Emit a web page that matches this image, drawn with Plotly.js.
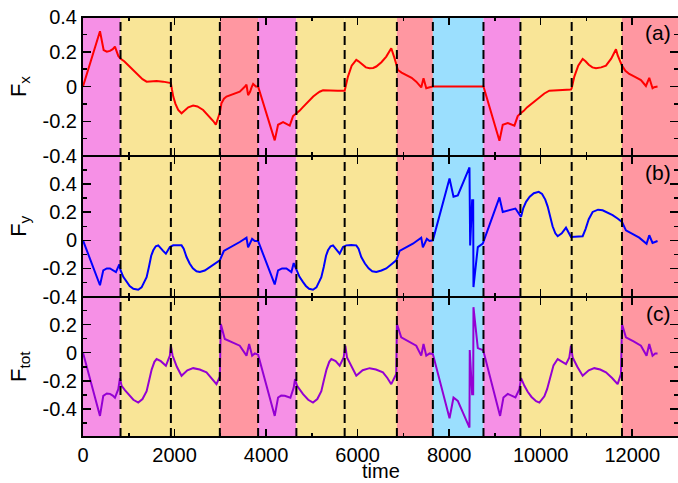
<!DOCTYPE html>
<html>
<head>
<meta charset="utf-8">
<script src="https://cdn.plot.ly/plotly-3.0.1.min.js"></script>
<style>html,body{margin:0;padding:0;background:#fff;}#chart{width:678px;height:483px;}</style>
</head>
<body>
<div id="chart"></div>
<script>
// ---- data ----
var boundaries = [0, 820, 1920, 2990, 3826, 4662, 5717, 6858, 7644, 8750, 9557, 10677, 11776, 13000];
var segmentKinds = ["m", "y", "y", "r", "m", "y", "y", "r", "c", "m", "y", "y", "r"];
var dashedAt = [820, 1920, 2990, 3826, 4662, 5717, 6858, 7644, 8750, 9557, 10677, 11776];
var xTicks = [0, 2000, 4000, 6000, 8000, 10000, 12000];
var yTickVals = [-0.4, -0.2, 0, 0.2, 0.4];
var yTickText = ["-0.4", "-0.2", "0", "0.2", "0.4"];
var yTickTextC = ["-0.4", "-0.2", "0", "0.2", ""];

var tFx = [0,371,451,520,589,650,698,740,771,822,900,1000,1098,1200,1300,1390,1500,1608,1750,1898,1920,1945,1972,2020,2080,2153,2220,2300,2407,2500,2625,2750,2850,2902,2952,2990,3025,3080,3135,3280,3425,3540,3572,3607,3650,3690,3717,3775,3826,4189,4262,4371,4517,4589,4662,4730,4800,4880,4953,5030,5100,5170,5244,5400,5564,5717,5750,5789,5870,5971,6020,6080,6180,6262,6340,6408,6520,6626,6735,6808,6858,6880,6960,7063,7180,7281,7390,7440,7500,7575,7644,8750,9099,9171,9280,9426,9498,9557,9630,9700,9800,9900,9971,10080,10189,10407,10662,10677,10700,10735,10820,10917,10980,11050,11130,11208,11320,11426,11540,11645,11681,11776,11850,11935,12060,12190,12299,12372,12444,12480,12553];
var fx = [0,0.318,0.21,0.2,0.205,0.215,0.23,0.2,0.176,0.16,0.145,0.12,0.095,0.068,0.042,0.028,0.03,0.032,0.028,0.022,0.02,-0.02,-0.058,-0.1,-0.135,-0.154,-0.14,-0.12,-0.11,-0.115,-0.135,-0.17,-0.2,-0.22,-0.175,-0.15,-0.097,-0.07,-0.058,-0.045,-0.03,0.0,0.01,-0.05,-0.03,0.0,0.015,0.0,0.0,-0.31,-0.22,-0.205,-0.225,-0.17,-0.155,-0.14,-0.12,-0.097,-0.077,-0.058,-0.043,-0.03,-0.022,-0.025,-0.025,-0.024,0.02,0.057,0.12,0.153,0.145,0.13,0.11,0.105,0.107,0.115,0.14,0.172,0.22,0.162,0.12,0.095,0.08,0.066,0.05,0.028,-0.005,0.047,-0.01,-0.004,0,0,-0.312,-0.22,-0.21,-0.225,-0.17,-0.155,-0.14,-0.12,-0.1,-0.08,-0.065,-0.04,-0.024,-0.02,-0.017,-0.01,0.02,0.057,0.12,0.158,0.145,0.125,0.11,0.105,0.11,0.12,0.16,0.214,0.18,0.12,0.09,0.072,0.055,0.037,0.003,0.05,-0.01,-0.004,0];

var tFy = [0,371,443,520,589,650,720,793,822,880,953,1020,1100,1207,1280,1340,1390,1440,1490,1535,1590,1644,1690,1750,1811,1850,1898,1971,2060,2153,2200,2262,2330,2400,2480,2553,2660,2771,2880,2989,3077,3250,3425,3572,3607,3695,3753,3826,4189,4262,4350,4444,4553,4604,4662,4730,4808,4870,4940,5025,5100,5160,5207,5260,5310,5353,5410,5462,5530,5608,5680,5753,5860,5971,6020,6080,6160,6240,6320,6408,6520,6626,6740,6844,6917,7060,7208,7390,7426,7513,7571,7644,8008,8095,8189,8444,8459,8502,8525,8531,8626,8735,8750,9099,9171,9280,9448,9571,9620,9680,9760,9850,9957,10030,10100,10153,10200,10260,10320,10371,10460,10553,10662,10800,10917,10980,11050,11135,11253,11353,11470,11571,11680,11776,11862,12000,12153,12313,12372,12444,12553];
var fy = [0,-0.32,-0.214,-0.2,-0.2,-0.21,-0.226,-0.171,-0.214,-0.26,-0.298,-0.325,-0.345,-0.352,-0.335,-0.3,-0.262,-0.19,-0.11,-0.071,-0.042,-0.036,-0.05,-0.075,-0.095,-0.07,-0.048,-0.036,-0.034,-0.036,-0.06,-0.119,-0.165,-0.2,-0.22,-0.226,-0.215,-0.19,-0.165,-0.143,-0.076,-0.045,-0.012,0.019,-0.05,0.01,-0.005,-0.005,-0.314,-0.214,-0.2,-0.2,-0.226,-0.162,-0.214,-0.26,-0.298,-0.325,-0.345,-0.352,-0.335,-0.3,-0.262,-0.19,-0.11,-0.071,-0.042,-0.036,-0.06,-0.095,-0.048,-0.036,-0.034,-0.036,-0.06,-0.119,-0.165,-0.2,-0.22,-0.226,-0.215,-0.2,-0.17,-0.143,-0.076,-0.05,-0.024,0.019,-0.05,0.01,-0.005,0,0.44,0.31,0.32,0.519,-0.036,0.286,0.286,-0.333,-0.048,-0.024,-0.01,0.305,0.202,0.21,0.226,0.167,0.23,0.274,0.31,0.335,0.345,0.33,0.29,0.24,0.17,0.1,0.05,0.029,0.05,0.09,0.024,0.027,0.029,0.08,0.15,0.202,0.218,0.214,0.195,0.179,0.155,0.131,0.071,0.045,0.019,-0.024,0.036,-0.019,-0.005];

var tFtot = [0,371,443,520,589,650,698,771,807,844,920,989,1100,1207,1300,1390,1440,1500,1560,1608,1700,1811,1898,1920,1957,2050,2153,2280,2407,2550,2698,2800,2916,2989,3011,3098,3260,3425,3572,3630,3695,3753,3826,4189,4262,4330,4407,4531,4604,4633,4677,4740,4808,4920,5025,5120,5207,5260,5320,5380,5426,5520,5608,5695,5731,5768,5870,5971,6110,6262,6400,6553,6650,6735,6844,6858,6953,7120,7281,7390,7440,7500,7575,7644,8008,8095,8189,8444,8450,8502,8525,8531,8626,8735,8750,9113,9186,9280,9448,9535,9571,9644,9720,9800,9900,9971,10080,10140,10189,10240,10280,10371,10460,10553,10626,10662,10698,10800,10917,11050,11171,11300,11426,11560,11681,11753,11776,11862,12030,12190,12313,12372,12444,12502,12553];
var ftot = [0,-0.45,-0.307,-0.29,-0.293,-0.305,-0.321,-0.26,-0.181,-0.236,-0.268,-0.295,-0.335,-0.355,-0.33,-0.274,-0.2,-0.12,-0.065,-0.045,-0.06,-0.093,-0.02,0.05,-0.02,-0.1,-0.164,-0.125,-0.11,-0.12,-0.14,-0.18,-0.224,-0.171,0.205,0.098,0.075,0.05,-0.021,0.062,-0.021,-0.005,-0.014,-0.45,-0.319,-0.305,-0.307,-0.321,-0.248,-0.188,-0.236,-0.268,-0.295,-0.335,-0.355,-0.33,-0.274,-0.2,-0.12,-0.065,-0.045,-0.06,-0.093,-0.033,0.05,-0.033,-0.1,-0.164,-0.125,-0.11,-0.12,-0.14,-0.18,-0.224,-0.152,0.205,0.109,0.08,0.05,-0.021,0.062,-0.021,-0.005,-0.01,-0.467,-0.319,-0.343,-0.533,0.019,-0.295,-0.295,0.324,0.033,0.019,0.01,-0.45,-0.319,-0.293,-0.319,-0.26,-0.181,-0.236,-0.28,-0.315,-0.345,-0.355,-0.31,-0.26,-0.2,-0.13,-0.09,-0.045,-0.06,-0.081,-0.033,0.05,-0.033,-0.1,-0.164,-0.125,-0.11,-0.12,-0.14,-0.18,-0.224,-0.152,0.205,0.109,0.08,0.05,-0.021,0.062,-0.021,-0.005,-0.005];

// ---- style ----
var FONT = "Liberation Sans, Arial, Helvetica, sans-serif";
var kindColor = {m: "#f690e6", y: "#f9e597", r: "#ff97a1", c: "#9bdffe"};

var traces = [
  {x: tFx, y: fx, xaxis: "x", yaxis: "y", mode: "lines", line: {color: "#ff0000", width: 2}, hoverinfo: "skip"},
  {x: tFy, y: fy, xaxis: "x2", yaxis: "y2", mode: "lines", line: {color: "#0000ff", width: 2}, hoverinfo: "skip"},
  {x: tFtot, y: ftot, xaxis: "x3", yaxis: "y3", mode: "lines", line: {color: "#9400d3", width: 2}, hoverinfo: "skip"}
];

var shapes = [];
for (var i = 0; i < segmentKinds.length; i++) {
  shapes.push({type: "rect", xref: "x", yref: "paper", x0: boundaries[i], x1: boundaries[i + 1], y0: 0, y1: 1,
    fillcolor: kindColor[segmentKinds[i]], line: {width: 0}, layer: "below"});
}
dashedAt.forEach(function (t) {
  shapes.push({type: "line", xref: "x", yref: "paper", x0: t, x1: t, y0: 0, y1: 1,
    line: {color: "#000", width: 2, dash: "9px,5px"}, layer: "above"});
});
// outer top / bottom frame edges (thicker than the shared inner edges)
shapes.push({type: "line", xref: "paper", yref: "paper", x0: 0, x1: 1, y0: 1, y1: 1, line: {color: "#000", width: 2}, layer: "above"});
shapes.push({type: "line", xref: "paper", yref: "paper", x0: 0, x1: 1, y0: 0, y1: 0, line: {color: "#000", width: 2}, layer: "above"});

function xax(anchor, showLabels) {
  var a = {
    anchor: anchor, range: [0, 13000], tickvals: xTicks, ticktext: xTicks.map(String),
    ticks: "inside", ticklen: 8, tickwidth: 1.5, tickcolor: "#000",
    minor: {ticks: "inside", ticklen: 4, tickwidth: 1.5, tickcolor: "#000", dtick: 1000, tick0: 0, showgrid: false},
    showline: true, linewidth: 1, linecolor: "#000", mirror: "ticks",
    showgrid: false, zeroline: false, showticklabels: showLabels,
    tickfont: {family: FONT, size: 20, color: "#000"}
  };
  if (anchor !== "y3") a.matches = "x3";
  return a;
}
function yax(anchor, domain, range, title, ticktext) {
  return {
    anchor: anchor, domain: domain, range: range, tickvals: yTickVals, ticktext: ticktext,
    ticks: "inside", ticklen: 8, tickwidth: 1.5, tickcolor: "#000",
    minor: {ticks: "inside", ticklen: 4, tickwidth: 1.5, tickcolor: "#000", dtick: 0.1, tick0: 0, showgrid: false},
    showline: true, linewidth: 2, linecolor: "#000", mirror: "ticks",
    showgrid: false, zeroline: false,
    tickfont: {family: FONT, size: 20, color: "#000"},
    title: {text: title, font: {family: FONT, size: 22, color: "#000"}, standoff: 10}
  };
}

var layout = {
  width: 678, height: 483,
  margin: {l: 83, r: 0, t: 17, b: 46},
  paper_bgcolor: "#fff", plot_bgcolor: "#fff",
  showlegend: false,
  font: {family: FONT, color: "#000"},
  xaxis: xax("y", false),
  xaxis2: xax("y2", false),
  xaxis3: xax("y3", true),
  yaxis: yax("x", [0.669, 1], [-0.4, 0.4], "F<sub>x</sub>", yTickText),
  yaxis2: yax("x2", [0.3345, 0.669], [-0.4, 0.6], "F<sub>y</sub>", yTickText),
  yaxis3: yax("x3", [0, 0.3345], [-0.6, 0.4], "F<sub>tot</sub>", yTickTextC),
  shapes: shapes,
  annotations: [
    {text: "time", xref: "paper", yref: "paper", x: 0.5, y: -0.1095, xanchor: "center", yanchor: "bottom", borderpad: 0, showarrow: false, font: {family: FONT, size: 20, color: "#000"}},
    {text: "(a)", xref: "paper", yref: "paper", x: 0.992, y: 0.962, xanchor: "right", yanchor: "middle", showarrow: false, font: {family: FONT, size: 21, color: "#000"}},
    {text: "(b)", xref: "paper", yref: "paper", x: 0.992, y: 0.629, xanchor: "right", yanchor: "middle", showarrow: false, font: {family: FONT, size: 21, color: "#000"}},
    {text: "(c)", xref: "paper", yref: "paper", x: 0.992, y: 0.293, xanchor: "right", yanchor: "middle", showarrow: false, font: {family: FONT, size: 21, color: "#000"}}
  ]
};

Plotly.newPlot("chart", traces, layout, {staticPlot: true, displayModeBar: false});
</script>
</body>
</html>
